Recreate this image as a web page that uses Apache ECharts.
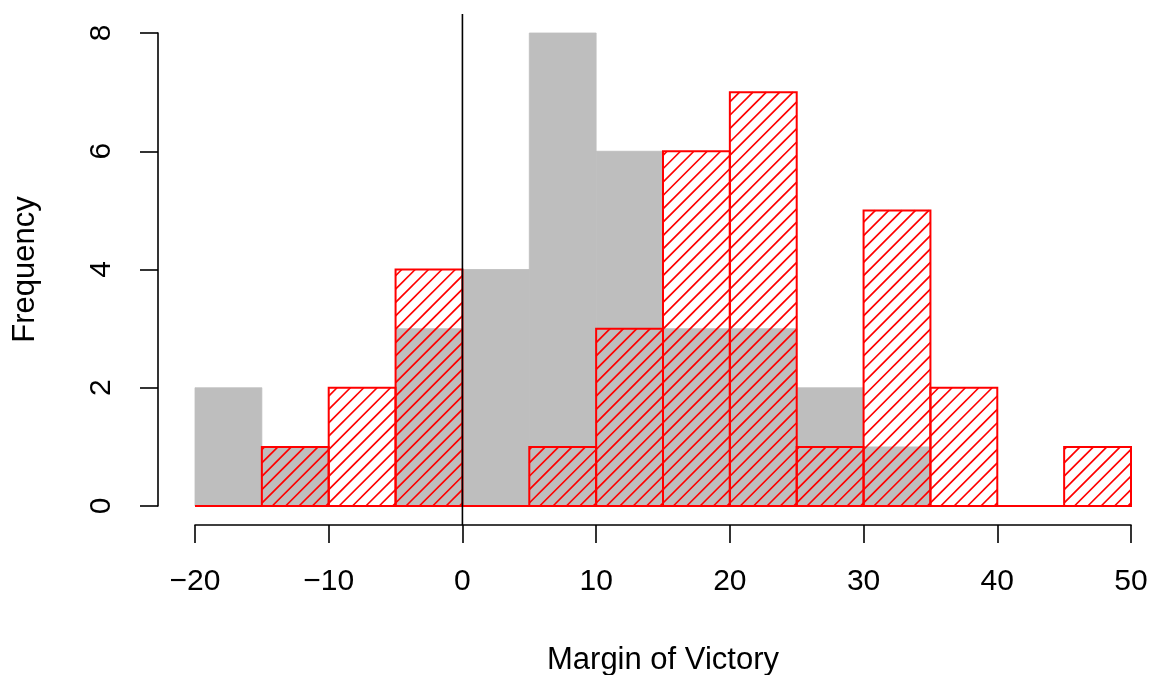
<!DOCTYPE html>
<html>
<head>
<meta charset="utf-8">
<script src="https://cdn.jsdelivr.net/npm/echarts@6/dist/echarts.min.js"></script>
<style>
  html, body { margin: 0; padding: 0; background: #ffffff; }
  #chart { width: 1150px; height: 675px; }
</style>
</head>
<body>
<div id="chart"></div>
<script>
// Histogram bin edges (width 5) and the counts of the two overlaid samples
const breaks = [-20, -15, -10, -5, 0, 5, 10, 15, 20, 25, 30, 35, 40, 45, 50];
const grayCounts = [2, 1, 0, 3, 4, 8, 6, 3, 3, 2, 1, 0, 0, 0];
const redCounts  = [0, 1, 2, 4, 0, 1, 3, 6, 7, 1, 5, 2, 0, 1];
const xTicks = [-20, -10, 0, 10, 20, 30, 40, 50];
const yTicks = [0, 2, 4, 6, 8];
const refLineX = 0;

const FONT = '"Liberation Sans", Arial, Helvetica, sans-serif';
const GRAY = '#BEBEBE';
const RED = '#FF0000';
const HATCH_STEP = 13.37;   // spacing of the 45° hatch lines (px along x)
const HATCH_PHASE = 2.8;

function toBins(counts) {
  return counts.map((c, i) => [breaks[i], breaks[i + 1], c]);
}

// 45° hatch lines clipped to a pixel rectangle (y0 = top, y1 = bottom)
function hatchLines(x0, y0, x1, y1) {
  const out = [];
  const cMin = x0 + y0, cMax = x1 + y1;
  let c = Math.ceil((cMin - HATCH_PHASE) / HATCH_STEP) * HATCH_STEP + HATCH_PHASE;
  for (; c <= cMax; c += HATCH_STEP) {
    const xa = Math.max(x0, c - y1);
    const xb = Math.min(x1, c - y0);
    if (xb - xa < 0.3) continue;
    out.push({
      type: 'line',
      shape: { x1: xa, y1: c - xa, x2: xb, y2: c - xb },
      style: { stroke: RED, lineWidth: 1.7 }
    });
  }
  return out;
}

const tickLabel = v => (v < 0 ? '\u2212' + Math.abs(v) : String(v));
const yMin = yTicks[0], yMax = yTicks[yTicks.length - 1];
const yPad = 0.04 * (yMax - yMin);

const chart = echarts.init(document.getElementById('chart'), null, { renderer: 'canvas' });

const axisLineStyle = { color: '#000', width: 1.6 };
const tickText = { color: '#000', fontFamily: FONT, fontSize: 30 };
const titleText = { color: '#000', fontFamily: FONT, fontSize: 31 };

chart.setOption({
  animation: false,
  backgroundColor: '#ffffff',
  grid: {
    left: 195, right: 19, top: 33, bottom: 169,
    containLabel: false,
    outerBoundsMode: 'none'
  },
  xAxis: {
    type: 'value',
    min: xTicks[0],
    max: xTicks[xTicks.length - 1],
    interval: 10,
    offset: 19,
    axisLine: { show: true, onZero: false, lineStyle: axisLineStyle },
    axisTick: { show: true, length: 18, lineStyle: axisLineStyle },
    axisLabel: Object.assign({ margin: 42, formatter: tickLabel }, tickText),
    splitLine: { show: false },
    name: 'Margin of Victory',
    nameLocation: 'middle',
    nameGap: 120,
    nameTextStyle: titleText
  },
  yAxis: {
    type: 'value',
    min: yMin,
    max: yMax,
    interval: 2,
    offset: 37,
    axisLine: { show: true, onZero: false, lineStyle: axisLineStyle },
    axisTick: { show: true, length: 18, lineStyle: axisLineStyle },
    axisLabel: Object.assign({ margin: 41, rotate: 90, formatter: tickLabel }, tickText),
    splitLine: { show: false },
    name: 'Frequency',
    nameLocation: 'middle',
    nameGap: 117,
    nameTextStyle: titleText
  },
  series: [
    {
      // solid gray histogram (thin same-colour outline closes seams between bins)
      type: 'custom',
      clip: false,
      z: 1,
      data: toBins(grayCounts),
      encode: { x: [0, 1], y: 2 },
      renderItem(params, api) {
        const p0 = api.coord([api.value(0), api.value(2)]);
        const p1 = api.coord([api.value(1), 0]);
        return {
          type: 'rect',
          shape: { x: p0[0], y: p0[1], width: p1[0] - p0[0], height: p1[1] - p0[1] },
          style: { fill: GRAY, stroke: api.value(2) > 0 ? GRAY : null, lineWidth: 0.8 }
        };
      }
    },
    {
      // hatched red histogram drawn over it
      type: 'custom',
      clip: false,
      z: 2,
      data: toBins(redCounts),
      encode: { x: [0, 1], y: 2 },
      renderItem(params, api) {
        const p0 = api.coord([api.value(0), api.value(2)]);
        const p1 = api.coord([api.value(1), 0]);
        const x0 = p0[0], y0 = p0[1], x1 = p1[0], y1 = p1[1];
        const children = hatchLines(x0, y0, x1, y1);
        children.push({
          type: 'rect',
          shape: { x: x0, y: y0, width: x1 - x0, height: y1 - y0 },
          style: { fill: 'none', stroke: RED, lineWidth: 2 }
        });
        return { type: 'group', children };
      }
    },
    {
      // vertical reference line across the whole plot region
      type: 'custom',
      clip: false,
      z: 3,
      data: [[refLineX, 0]],
      encode: { x: 0, y: 1 },
      renderItem(params, api) {
        const top = api.coord([api.value(0), yMax + yPad]);
        const bottom = api.coord([api.value(0), yMin - yPad]);
        return {
          type: 'line',
          shape: { x1: top[0], y1: top[1], x2: bottom[0], y2: bottom[1] },
          style: { stroke: '#000', lineWidth: 1.6 }
        };
      }
    }
  ]
});
</script>
</body>
</html>
